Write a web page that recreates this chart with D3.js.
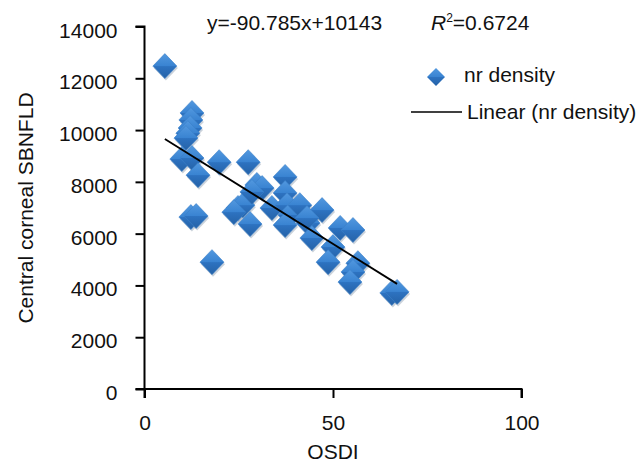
<!DOCTYPE html>
<html>
<head>
<meta charset="utf-8">
<script src="https://cdn.jsdelivr.net/npm/d3@7"></script>
<style>
  html, body { margin: 0; padding: 0; background: #fff; }
  svg { display: block; font-family: "Liberation Sans", Arial, sans-serif; }
</style>
</head>
<body>
<svg id="chart" width="641" height="463"></svg>
<script>
const osdi   = [5.4,12.6,12.3,12.1,11.5,11.0,9.9,12.6,14.2,19.8,27.5,12.3,13.7,17.9,24.8,26.1,23.7,28.0,29.8,31.2,28.5,37.3,37.3,33.8,37.8,38.6,37.3,47.1,43.4,41.2,43.1,44.4,51.9,55.3,50.0,48.7,56.6,55.3,54.5,65.6,67.0];
const sbnfld = [12470,10660,10390,10080,9880,9690,8880,8920,8260,8760,8760,6640,6680,4900,6990,7100,6830,6370,7880,7760,7610,8190,7570,6990,7100,6720,6330,6910,6410,7100,6600,5830,6220,6140,5480,4900,4860,4520,4130,3710,3750];
const xTicks = [0, 50, 100];
const yTicks = [0, 2000, 4000, 6000, 8000, 10000, 12000, 14000];
const trendSlope = -90.785;
const trendIntercept = 10143;
const equationText = "y=-90.785x+10143";
const r2Value = "0.6724";
const seriesName = "nr density";
const trendName = "Linear (nr density)";
const xTitle = "OSDI";
const yTitle = "Central corneal SBNFLD";

const svg = d3.select("#chart");
const x = d3.scaleLinear().domain([0, 100]).range([144.5, 521.5]);
const y = d3.scaleLinear().domain([0, 14000]).range([389, 26.5]);

const defs = svg.append("defs");
const grad = defs.append("linearGradient").attr("id", "dg").attr("x1", 0).attr("y1", 0).attr("x2", 0).attr("y2", 1);
[["0%", "#5298df"], ["48%", "#3a84d2"], ["52%", "#2d72c0"], ["100%", "#2562a7"]].forEach(s =>
  grad.append("stop").attr("offset", s[0]).attr("stop-color", s[1]));

const fontSize = 21;

// axes
const xAxis = svg.append("g").attr("transform", `translate(0,${y(0)})`)
  .call(d3.axisBottom(x).tickValues(xTicks).tickSize(9).tickPadding(17).tickFormat(d3.format("d")));
const yAxis = svg.append("g").attr("transform", `translate(${x(0)},0)`)
  .call(d3.axisLeft(y).tickValues(yTicks).tickSize(9).tickPadding(18).tickFormat(d3.format("d")));
[xAxis, yAxis].forEach(a => {
  a.select(".domain").attr("stroke", "#000").attr("stroke-width", 2);
  a.selectAll(".tick line").attr("stroke", "#000").attr("stroke-width", 2);
  a.selectAll(".tick text").attr("font-size", fontSize).attr("fill", "#111")
    .attr("font-family", "Liberation Sans, Arial, sans-serif");
});
xAxis.select(".domain").attr("d", `M${x(0)},9V0H${x(100)}V9`);
yAxis.select(".domain").attr("d", `M-9,${y(14000)}H0V${y(0)}H-9`);
yAxis.selectAll(".tick text").attr("dy", "0.5em");

// points
const pts = osdi.map((v, i) => ({x: v, y: sbnfld[i]}));
const diamond = "M0,-12.5L12,0L0,12.5L-12,0Z";
const g = svg.append("g");
g.selectAll("path.shadow").data(pts).join("path")
  .attr("class", "shadow")
  .attr("d", diamond)
  .attr("transform", d => `translate(${x(d.x) + 1},${y(d.y) + 2})`)
  .attr("fill", "#9aa8b8").attr("opacity", 0.5);
g.selectAll("path.pt").data(pts).join("path")
  .attr("class", "pt")
  .attr("d", diamond)
  .attr("transform", d => `translate(${x(d.x)},${y(d.y)})`)
  .attr("fill", "url(#dg)")
  .attr("stroke", "#3a7fc8").attr("stroke-width", 0.6);

// trend line
const ext = d3.extent(osdi);
svg.append("line")
  .attr("x1", x(ext[0])).attr("y1", y(trendSlope * ext[0] + trendIntercept))
  .attr("x2", x(ext[1])).attr("y2", y(trendSlope * ext[1] + trendIntercept))
  .attr("stroke", "#000").attr("stroke-width", 1.8);

// equation text
svg.append("text").attr("x", 207).attr("y", 30).attr("font-size", fontSize).attr("fill", "#111").text(equationText);
const r2 = svg.append("text").attr("x", 431).attr("y", 30).attr("font-size", fontSize).attr("fill", "#111");
r2.append("tspan").attr("font-style", "italic").text("R");
r2.append("tspan").attr("font-size", 12).attr("dy", -8).text("2");
r2.append("tspan").attr("dy", 8).text("=" + r2Value);

// legend
svg.append("path").attr("d", "M0,-9L9,0L0,9L-9,0Z")
  .attr("transform", "translate(436,77)").attr("fill", "url(#dg)");
svg.append("text").attr("x", 464).attr("y", 82).attr("font-size", fontSize).attr("fill", "#111").text(seriesName);
svg.append("line").attr("x1", 411).attr("x2", 462).attr("y1", 112).attr("y2", 112)
  .attr("stroke", "#000").attr("stroke-width", 1.5);
svg.append("text").attr("x", 467).attr("y", 119).attr("font-size", fontSize).attr("fill", "#111").text(trendName);

// axis titles
svg.append("text").attr("x", x(50)).attr("y", 459).attr("text-anchor", "middle")
  .attr("font-size", fontSize).attr("fill", "#111").text(xTitle);
svg.append("text").attr("transform", "translate(33,208) rotate(-90)").attr("text-anchor", "middle")
  .attr("font-size", fontSize).attr("fill", "#111").text(yTitle);
</script>
</body>
</html>
